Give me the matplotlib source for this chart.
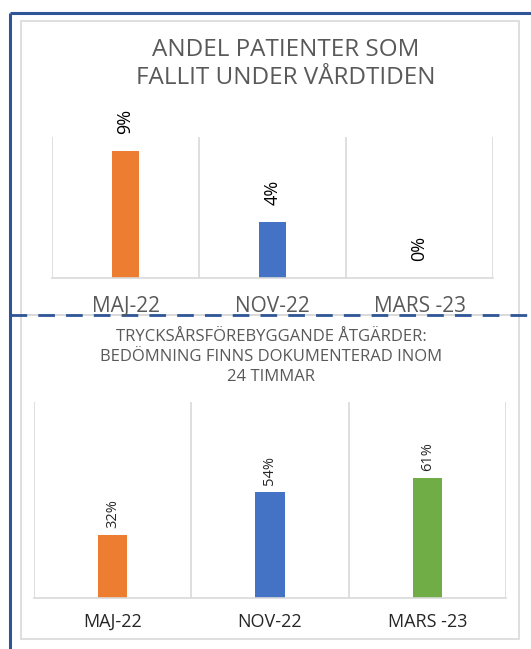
import matplotlib
matplotlib.use("Agg")
import matplotlib.pyplot as plt
from matplotlib.patches import Rectangle

# === Data ===
periods = ["MAJ-22", "NOV-22", "MARS -23"]
fall_share = [0.09, 0.04, 0.0]
fall_labels = ["9%", "4%", "0%"]
risk_assessed = [0.32, 0.54, 0.61]
risk_labels = ["32%", "54%", "61%"]
bar_colors = ["#ED7D31", "#4472C4", "#70AD47"]

title_top = "ANDEL PATIENTER SOM\nFALLIT UNDER VÅRDTIDEN"
title_bottom = "TRYCKSÅRSFÖREBYGGANDE ÅTGÄRDER:\nBEDÖMNING FINNS DOKUMENTERAD INOM\n24 TIMMAR"

# === Layout (pixels) ===
W, H = 531, 649
frame_blue = "#2F5597"
grid_gray = "#D9D9D9"
plt.rcParams["font.family"] = ["Open Sans", "DejaVu Sans"]

fig = plt.figure(figsize=(W / 100, H / 100), dpi=100)
fig.patch.set_facecolor("white")

# background layer in pixel coordinates for frames and boxes
bg = fig.add_axes([0, 0, 1, 1])
bg.set_xlim(0, W)
bg.set_ylim(H, 0)
bg.axis("off")
bg.add_patch(Rectangle((21, 21), 498, 294, fill=False, edgecolor=grid_gray, lw=1.2))
bg.add_patch(Rectangle((21, 315), 498, 324, fill=False, edgecolor=grid_gray, lw=1.2))
bg.plot([10, 10], [13, H], color=frame_blue, lw=2.2, solid_capstyle="butt")
bg.plot([10, W], [13, 13], color=frame_blue, lw=2.2, solid_capstyle="butt")
bg.plot([10, W], [315, 315], color=frame_blue, lw=2, dashes=(6, 4))


def px_axes(x0, y0, x1, y1):
    return fig.add_axes([x0 / W, 1 - y1 / H, (x1 - x0) / W, (y1 - y0) / H])


def style_axes(ax, ymax):
    n = len(periods)
    ax.set_xlim(-0.5, n - 0.5)
    ax.set_ylim(0, ymax)
    for s in ["top", "left", "right"]:
        ax.spines[s].set_visible(False)
    ax.spines["bottom"].set_color(grid_gray)
    ax.spines["bottom"].set_linewidth(1.2)
    for b in range(n + 1):
        ax.axvline(b - 0.5, color=grid_gray, lw=1.2, zorder=0)
    ax.set_yticks([])
    ax.set_xticks(range(n))
    ax.tick_params(axis="x", length=0)
    ax.patch.set_alpha(0)


# === Top chart: falls ===
ax1 = px_axes(52, 137, 493, 278)
style_axes(ax1, 0.10)
ax1.bar(range(len(periods)), fall_share, width=0.185, color=bar_colors[:2] + ["#A5A5A5"])
for i, (v, lab) in enumerate(zip(fall_share, fall_labels)):
    ax1.annotate(lab, (i, v), xytext=(0, 12), textcoords="offset points",
                 rotation=90, ha="center", va="bottom", fontsize=13, color="black")
ax1.set_xticklabels(periods, fontsize=15, color="#595959")
ax1.tick_params(axis="x", pad=13)
fig.text(286 / W, 1 - 64 / H, title_top, ha="center", va="center",
         fontsize=17.5, color="#595959", linespacing=1.22)

# === Bottom chart: pressure ulcer risk assessment ===
ax2 = px_axes(34, 402, 506, 598)
style_axes(ax2, 1.0)
ax2.bar(range(len(periods)), risk_assessed, width=0.185, color=bar_colors)
for i, (v, lab) in enumerate(zip(risk_assessed, risk_labels)):
    ax2.annotate(lab, (i, v), xytext=(0, 5), textcoords="offset points",
                 rotation=90, ha="center", va="bottom", fontsize=10.5, color="#262626")
ax2.set_xticklabels(periods, fontsize=13, color="#262626")
ax2.tick_params(axis="x", pad=11)
fig.text(271 / W, 1 - 357 / H, title_bottom, ha="center", va="center",
         fontsize=12, color="#595959", linespacing=1.3)

fig.savefig("out.png", dpi=100)
